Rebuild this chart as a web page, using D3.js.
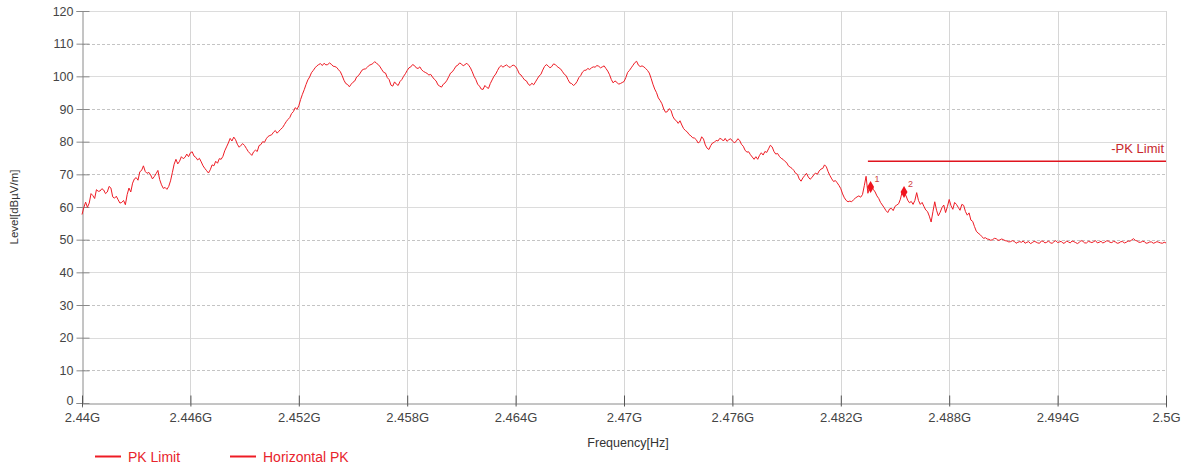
<!DOCTYPE html>
<html>
<head>
<meta charset="utf-8">
<script src="https://cdn.jsdelivr.net/npm/d3@7"></script>
<style>
  html, body { margin: 0; padding: 0; background: #ffffff; }
  svg { display: block; font-family: "Liberation Sans", Arial, sans-serif; }
</style>
</head>
<body>
<svg id="chart" width="1190" height="468"></svg>
<script>
// ---------------- DATA ----------------
const sweepStartHz = 2.44e9;
const sweepStepHz = 0.1e6;       // sweep point spacing
// Horizontal PK trace levels (dBµV/m), one per sweep point 2.440G .. 2.500G
const horizontalPK = [
  57.7, 59.8, 61.5, 59.9, 61.2, 64.1, 63.5, 62.6, 65.3, 64.8, 64.9, 65.6, 65.2, 64.1, 64.6, 66.3, 65.8, 63.1, 62.7, 63.3,
  62.2, 61.2, 61.4, 62.0, 60.7, 63.8, 65.8, 64.6, 67.3, 68.6, 69.0, 68.2, 70.8, 71.2, 72.6, 70.9, 70.3, 70.6, 69.8, 68.6,
  69.3, 70.2, 71.2, 68.4, 66.8, 65.7, 66.0, 65.4, 66.3, 68.0, 70.5, 73.1, 74.6, 73.2, 74.0, 75.4, 74.8, 75.2, 76.2, 75.4,
  76.6, 76.9, 75.6, 75.2, 74.4, 74.9, 73.8, 72.6, 71.8, 71.1, 70.4, 71.4, 72.9, 72.6, 74.0, 73.4, 74.8, 74.6, 75.5, 77.2,
  78.4, 79.6, 81.0, 80.2, 81.4, 80.6, 79.2, 78.3, 78.9, 79.4, 78.8, 77.9, 77.0, 76.4, 75.8, 76.9, 77.4, 77.0, 78.8, 79.1,
  80.0, 79.8, 80.9, 81.6, 81.9, 82.1, 82.9, 83.4, 82.6, 83.2, 83.8, 84.3, 85.2, 86.1, 86.8, 87.4, 88.6, 89.2, 90.4, 89.9,
  91.0, 92.9, 94.5, 95.9, 97.5, 98.9, 99.8, 101.1, 101.8, 102.6, 103.2, 103.6, 103.9, 103.3, 104.0, 103.5, 103.6, 104.1, 103.7, 103.1,
  103.0, 102.7, 102.0, 101.4, 100.2, 98.8, 97.8, 97.5, 96.8, 97.6, 98.2, 98.6, 99.8, 100.2, 101.0, 101.9, 102.2, 102.3, 102.8, 103.4,
  103.6, 103.9, 104.5, 104.0, 103.6, 102.9, 102.0, 101.2, 101.0, 99.6, 99.0, 97.3, 97.0, 98.3, 97.6, 97.2, 98.4, 99.0, 100.0, 100.8,
  101.8, 102.6, 102.9, 103.6, 103.3, 102.6, 102.4, 102.9, 102.0, 101.5, 101.2, 100.9, 100.4, 100.6, 99.8, 99.1, 98.6, 97.4, 97.0, 96.7,
  97.6, 98.0, 98.8, 99.9, 101.0, 101.4, 102.2, 103.1, 103.4, 104.1, 103.8, 103.2, 103.6, 104.0, 103.4, 102.6, 101.4, 100.0, 99.0, 97.6,
  97.0, 96.1, 96.0, 97.2, 96.6, 96.3, 97.8, 98.9, 100.0, 100.7, 101.8, 102.8, 103.3, 102.8, 103.2, 103.5, 103.0, 102.7, 103.3, 103.4,
  103.0, 102.1, 100.8, 100.4, 99.6, 98.9, 98.6, 97.6, 97.2, 97.9, 97.4, 98.3, 99.2, 100.1, 100.6, 101.9, 103.0, 103.6, 103.2, 102.6,
  103.0, 103.8, 103.6, 103.0, 102.6, 102.2, 101.4, 100.6, 100.2, 99.0, 98.0, 97.8, 97.2, 97.6, 98.4, 99.6, 100.2, 101.3, 101.8, 101.9,
  102.4, 102.1, 102.6, 102.9, 102.8, 103.3, 103.1, 102.6, 102.9, 103.2, 102.4, 101.6, 100.5, 99.0, 98.0, 98.6, 98.2, 97.6, 97.8, 98.1,
  98.4, 99.6, 101.2, 101.8, 102.6, 103.4, 104.2, 104.6, 103.4, 103.0, 103.2, 102.9, 102.4, 101.8, 101.0, 99.4, 97.6, 96.1, 95.0, 93.4,
  92.6, 91.6, 90.0, 89.0, 89.2, 90.1, 89.6, 87.8, 86.8, 86.4, 85.6, 86.4, 85.1, 84.0, 83.4, 83.0, 82.2, 81.8, 81.2, 81.1,
  80.6, 79.6, 80.0, 81.5, 80.8, 79.0, 78.0, 77.6, 78.8, 79.6, 79.8, 80.4, 80.2, 81.0, 80.8, 80.2, 81.0, 80.1, 80.6, 80.9,
  80.2, 79.7, 80.0, 80.9, 80.4, 79.2, 78.6, 77.4, 76.8, 76.9, 76.0, 75.3, 74.6, 75.4, 74.6, 75.8, 76.6, 75.9, 77.0, 76.7,
  77.8, 78.9, 78.4, 77.0, 76.2, 76.4, 75.5, 74.9, 74.6, 74.0, 73.6, 72.6, 72.2, 71.8, 71.2, 70.3, 70.0, 68.6, 67.9, 68.9,
  69.6, 70.3, 69.2, 68.5, 69.0, 69.8, 70.4, 70.0, 71.0, 71.6, 71.8, 72.9, 72.3, 70.8, 69.6, 68.6, 67.8, 68.1, 67.4, 66.6,
  65.6, 64.0, 62.8, 62.0, 61.6, 61.8, 61.6, 62.2, 62.7, 63.1, 63.4, 63.0, 63.8, 66.5, 69.4, 64.2, 66.2, 66.8, 65.4, 64.6,
  63.4, 62.6, 61.4, 60.6, 59.8, 58.9, 58.3, 59.4, 59.6, 58.9, 60.2, 60.6, 61.0, 62.4, 64.8, 64.0, 63.6, 62.1, 61.3, 61.7,
  60.8, 62.0, 64.4, 62.0, 60.8, 61.4, 60.2, 59.1, 58.6, 57.2, 55.4, 58.6, 61.6, 59.0, 57.3, 58.4, 59.8, 60.6, 58.3, 60.1,
  62.3, 60.4, 59.3, 61.4, 60.8, 59.9, 59.0, 60.8, 60.5, 58.6, 57.5, 58.2, 56.0, 55.6, 54.0, 52.6, 52.0, 51.6, 51.0, 50.4,
  50.6, 50.2, 50.1, 49.8, 50.0, 50.4, 50.3, 49.8, 49.9, 50.2, 50.0, 49.7, 49.6, 49.3, 49.4, 49.7, 49.5, 48.9, 49.2, 49.4,
  49.2, 49.6, 48.9, 49.2, 49.4, 48.8, 49.1, 49.5, 49.3, 49.0, 48.9, 49.6, 49.5, 49.0, 49.2, 49.6, 49.0, 48.9, 49.4, 49.7,
  49.1, 49.3, 49.5, 48.9, 49.0, 49.6, 49.3, 49.0, 49.6, 49.4, 49.1, 48.8, 49.2, 49.7, 49.5, 49.0, 49.0, 49.5, 49.3, 49.1,
  49.4, 49.7, 49.0, 49.2, 49.5, 49.0, 49.2, 49.6, 49.6, 49.2, 49.1, 49.5, 49.3, 48.9, 49.0, 49.4, 49.4, 49.0, 49.2, 49.6,
  49.5, 49.9, 50.3, 49.8, 49.6, 49.2, 49.2, 49.5, 49.4, 48.9, 49.0, 49.3, 49.3, 48.9, 49.1, 49.4, 49.2, 49.0, 48.9, 49.2,
  49.0
];
// PK limit line (restricted band)
const limitFreqs = [2.4835e9, 2.5e9];
const limitLevels = [74, 74];
// Markers
const markerLabels = ["1", "2"];
const markerFreqs = [2.48365e9, 2.4855e9];
const markerLevels = [66.1, 64.6];
// Axes
const xTickValues = [2.44e9, 2.446e9, 2.452e9, 2.458e9, 2.464e9, 2.47e9, 2.476e9, 2.482e9, 2.488e9, 2.494e9, 2.5e9];
const xTickLabels = ["2.44G", "2.446G", "2.452G", "2.458G", "2.464G", "2.47G", "2.476G", "2.482G", "2.488G", "2.494G", "2.5G"];
const yTickValues = [0, 10, 20, 30, 40, 50, 60, 70, 80, 90, 100, 110, 120];
const legendNames = ["PK Limit", "Horizontal PK"];

// ---------------- CHART ----------------
const svg = d3.select("#chart");
const L = 82, R = 1166, T = 11, B = 403;
const x = d3.scaleLinear().domain([2.44e9, 2.5e9]).range([L, R]);
const y = d3.scaleLinear().domain([0, 120]).range([B, T]);
const RED = "#ee1c25";
const FONT = "Liberation Sans, Arial, sans-serif";

// grid
const grid = svg.append("g");
grid.selectAll("line.h").data(yTickValues.filter(v => v > 0)).enter().append("line")
  .attr("x1", L).attr("x2", R)
  .attr("y1", d => Math.round(y(d)) + 0.5).attr("y2", d => Math.round(y(d)) + 0.5)
  .attr("stroke", d => (d % 20 === 10) ? "#c4c4c4" : "#dcdcdc")
  .attr("stroke-dasharray", d => (d % 20 === 10) ? "3,2" : null)
  .attr("stroke-width", 1);
grid.selectAll("line.v").data(xTickValues.slice(1)).enter().append("line")
  .attr("y1", T).attr("y2", B)
  .attr("x1", d => Math.round(x(d)) + 0.5).attr("x2", d => Math.round(x(d)) + 0.5)
  .attr("stroke", "#d6d6d6").attr("stroke-width", 1);

// axes
const yAxis = d3.axisLeft(y).tickValues(yTickValues).tickSize(6).tickPadding(4);
const gy = svg.append("g").attr("transform", `translate(${L + 0.5},0)`).call(yAxis);
gy.select(".domain").attr("stroke", "#8a8a8a");
gy.selectAll(".tick line").attr("stroke", "#8a8a8a").attr("x2", 7).attr("x1", -6);
gy.selectAll(".tick text").attr("font-size", 12.5).attr("fill", "#444").attr("x", -9)
  .attr("font-family", FONT);
gy.selectAll(".tick").filter(d => d === 0).select("text").attr("dy", "0.1em");

const xAxis = d3.axisBottom(x).tickValues(xTickValues)
  .tickFormat((d, i) => xTickLabels[i]).tickSize(4).tickPadding(5);
const gx = svg.append("g").attr("transform", `translate(0,${B + 0.5})`).call(xAxis);
gx.select(".domain").attr("stroke", "#8a8a8a");
gx.selectAll(".tick line").attr("stroke", "#555").attr("y1", -8).attr("y2", 3);
gx.selectAll(".tick text").attr("font-size", 13).attr("fill", "#444")
  .attr("font-family", FONT);

// axis titles
svg.append("text").attr("x", 628).attr("y", 447).attr("text-anchor", "middle")
  .attr("font-size", 12.5).attr("fill", "#333").text("Frequency[Hz]");
svg.append("text").attr("transform", "translate(18,207) rotate(-90)")
  .attr("text-anchor", "middle").attr("font-size", 11.5).attr("fill", "#333").text("Level[dBµV/m]");

// trace
const traceData = horizontalPK.map((v, i) => [sweepStartHz + i * sweepStepHz, v]);
const line = d3.line().x(d => x(d[0])).y(d => y(d[1]));
svg.append("path").datum(traceData).attr("d", line)
  .attr("fill", "none").attr("stroke", RED).attr("stroke-width", 1)
  .attr("stroke-linejoin", "round");

// limit line
svg.append("path").datum(limitFreqs.map((f, i) => [f, limitLevels[i]])).attr("d", line)
  .attr("fill", "none").attr("stroke", "#e0141e").attr("stroke-width", 1.6);
svg.append("text").attr("x", x(2.5e9) - 2).attr("y", y(limitLevels[1]) - 8)
  .attr("text-anchor", "end").attr("font-size", 13).attr("fill", "#c8282d").text("-PK Limit");

// markers
const mk = svg.append("g");
markerFreqs.forEach((f, i) => {
  mk.append("path").attr("d", d3.symbol(d3.symbolDiamond, 42)())
    .attr("transform", `translate(${x(f)},${y(markerLevels[i])})`).attr("fill", "#f0141e");
  mk.append("text").attr("x", x(f) + 4).attr("y", y(markerLevels[i]) - 5)
    .attr("font-size", 9).attr("fill", "#d04040").text(markerLabels[i]);
});

// legend
const legendX = [95, 230];
legendNames.forEach((n, i) => {
  svg.append("line").attr("x1", legendX[i]).attr("x2", legendX[i] + 26)
    .attr("y1", 456.5).attr("y2", 456.5).attr("stroke", RED).attr("stroke-width", 2);
  svg.append("text").attr("x", legendX[i] + 33).attr("y", 461.5)
    .attr("font-size", 14).attr("fill", "#e8242c").text(n);
});
</script>
</body>
</html>
